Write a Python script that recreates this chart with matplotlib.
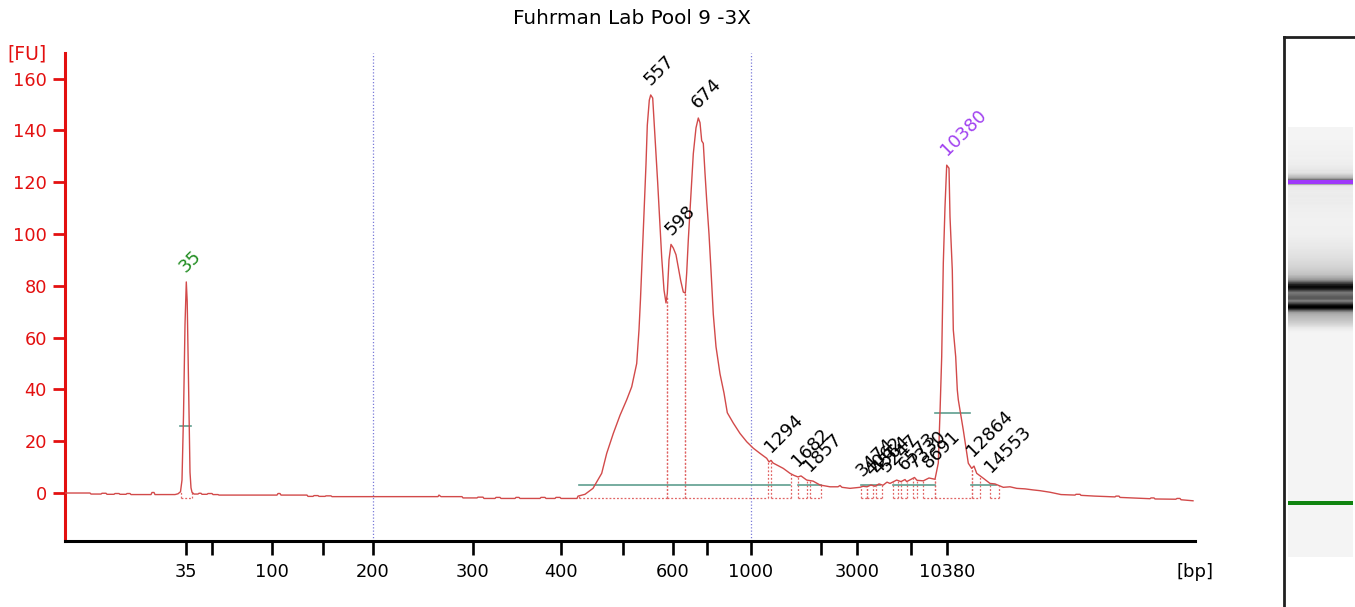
import numpy as np
import matplotlib
matplotlib.use("Agg")
import matplotlib.pyplot as plt

# ---------------- data ----------------
title = "Fuhrman Lab Pool 9 -3X"

# ladder: fragment size (bp) and migration time (s)
ladder_bp = [35, 50, 100, 150, 200, 300, 400, 500, 600, 700, 1000, 2000, 3000, 7000, 10380]
ladder_t = [32.13, 34.73, 40.74, 45.75, 50.77, 60.75, 69.6, 75.76, 80.79, 84.2, 88.56, 95.56, 99.2, 104.6, 108.2]
tick_labels = ["35", "", "100", "", "200", "300", "400", "", "600", "", "1000", "", "3000", "", "10380"]
grid_bp = [200, 1000]

# electropherogram trace: time (s), fluorescence (FU)
trace_t = [20.0, 22.5, 22.6, 23.6, 23.7, 24.1, 24.2, 24.9, 25.0, 25.4, 25.5, 26.1, 26.2, 26.5, 26.6,
           28.6, 28.7, 28.9, 29.0, 31.0, 31.3, 31.55, 31.7, 31.85, 32.0, 32.13, 32.22, 32.3, 32.4,
           32.5, 32.6, 32.7, 32.9, 33.3, 33.4, 33.6, 33.7, 34.2, 34.3, 34.7, 34.8, 35.3, 35.4, 41.2,
           41.3, 41.5, 41.6, 44.2, 44.3, 44.8, 44.9, 45.3, 45.4, 46.0, 46.1, 46.6, 46.7, 57.3, 57.4,
           57.6, 59.7, 59.8, 61.2, 61.3, 61.8, 61.9, 63.0, 63.1, 63.5, 63.6, 65.0, 65.1, 65.4, 65.5,
           67.5, 67.6, 68.0, 68.1, 69.0, 69.1, 69.5, 69.6, 71.2, 71.3, 72.0, 72.8, 73.67, 74.17,
           74.83, 75.5, 76.17, 76.67, 77.17, 77.4, 77.55, 77.67, 77.9, 78.1, 78.23, 78.43, 78.57,
           78.77, 78.9, 79.1, 79.27, 79.43, 79.67, 79.9, 80.1, 80.23, 80.4, 80.6, 80.83, 81.1, 81.33,
           81.57, 81.83, 82.03, 82.17, 82.33, 82.57, 82.83, 83.1, 83.33, 83.5, 83.67, 83.83, 84.0,
           84.17, 84.4, 84.6, 84.83, 85.1, 85.5, 85.9, 86.23, 86.83, 87.5, 88.17, 88.83, 89.5, 90.17,
           90.4, 90.6, 90.8, 91.83, 92.5, 92.9, 93.3, 93.6, 94.17, 94.5, 94.8, 95.5, 96.5, 97.3,
           97.5, 97.7, 98.5, 99.5, 99.8, 100.2, 100.6, 101.0, 101.4, 101.8, 102.2, 102.5, 103.17,
           103.6, 104.0, 104.17, 104.95, 105.2, 105.83, 106.4, 107.0, 107.33, 107.5, 107.67, 107.83,
           108.0, 108.17, 108.4, 108.5, 108.73, 108.83, 109.07, 109.23, 109.33, 109.83, 110.33,
           110.67, 110.9, 111.17, 111.83, 112.5, 113.0, 113.83, 114.5, 115.17, 116.0, 116.8, 117.5,
           118.5, 119.6, 121.0, 121.1, 121.5, 121.6, 123.0, 125.0, 125.1, 125.4, 125.5, 127.25,
           128.5, 128.6, 128.9, 129.0, 131.08, 131.2, 131.5, 131.6, 132.8]
trace_fu = [0.0, 0.0, -0.4, -0.4, -0.1, -0.1, -0.5, -0.5, -0.2, -0.2, -0.5, -0.5, -0.2, -0.2, -0.6,
            -0.6, 0.2, 0.2, -0.6, -0.6, -0.3, 0.5, 5, 30, 65, 81.5, 74, 55, 30,
            8, 2, 0.3, -0.4, -0.4, -0.1, -0.1, -0.5, -0.5, -0.2, -0.2, -0.6, -0.6, -0.8, -0.8,
            -0.2, -0.2, -0.8, -0.8, -1.3, -1.3, -1.0, -1.0, -1.3, -1.3, -1.1, -1.1, -1.4, -1.4, -0.8,
            -1.4, -1.4, -1.9, -1.9, -1.6, -1.6, -2.1, -2.1, -1.7, -1.7, -2.1, -2.1, -1.7, -1.7, -2.1,
            -2.1, -1.7, -1.7, -2.1, -2.1, -1.7, -1.7, -2.1, -2.1, -1.2, -0.5, 1.8, 7.6, 15.3,
            23, 30, 36, 41, 50, 63, 75, 86, 108, 127, 142, 151.7, 153.7,
            152.5, 144, 131, 119.7, 108, 91, 78.4, 73.4, 77, 90, 96, 94.6, 92, 87,
            82, 77.6, 77.2, 85, 97.7, 114, 131, 141, 144.8, 143, 136, 135, 123.5,
            113, 100, 86, 69, 56.5, 46, 38.6, 31, 27, 23, 19.8, 17.3, 15.3, 13.4,
            12.0, 12.6, 11.6, 9.5, 7.6, 6.8, 6.2, 6.6, 5.0, 4.8, 4.6, 3.1, 2.4, 2.4,
            2.9, 2.2, 1.8, 2.2, 2.6, 2.4, 3.1, 2.6, 3.5, 3.0, 4.2, 3.7, 5.0,
            4.4, 5.2, 4.4, 6.0, 4.9, 4.7, 5.8, 5.3, 11.6, 31, 52.6, 88.7,
            110.5, 126.6, 125.4, 106.7, 86, 63, 52.6, 39.8, 36, 24.3, 11.5,
            9.5, 10.4, 7.6, 5.7, 3.7, 3.5, 2.2, 2.4, 1.8, 1.6, 1.2, 0.9,
            0.3, -0.6, -0.8, -0.5, -0.5, -0.9, -1.2, -1.5, -1.2, -1.2, -1.7, -2.0,
            -2.2, -1.9, -1.9, -2.3, -2.4, -2.1, -2.1, -2.6, -3.0]

# called peaks
peak_bp = [35, 557, 598, 674, 1294, 1682, 1857, 3474, 4062, 4564, 5247, 6573, 7330, 8691,
           10380, 12864, 14553]
peak_fu = [81.5, 153.7, 96, 144.8, 12, 6.5, 4.6, 2.6, 3.1, 3.5, 4.2, 5.2, 6.0, 5.8,
           126.6, 10.4, 4.2]
peak_color = ["#1f8c1f"] + ["black"] * 13 + ["#a040f0"] + ["black"] * 2

# integration regions (start, end time, s)
region_start = [31.55, 71.4, 80.2, 82.0, 90.6, 93.3, 94.5, 99.6, 100.17, 101.1, 102.8, 103.6,
                104.8, 105.8, 107.0, 110.67, 112.5]
region_end = [32.7, 80.2, 82.0, 90.33, 92.57, 94.2, 95.6, 100.17, 100.8, 101.67, 103.3, 104.17,
              105.17, 107.0, 110.67, 111.5, 113.4]

# baseline (teal) segments
base_start = [71.4, 93.3, 99.6, 102.8, 110.6]
base_end = [92.5, 95.6, 101.5, 107.0, 113.1]
base_level = 3.2
# marker width lines
mw_start = [31.5, 107.0]
mw_end = [32.6, 110.5]
mw_level = [26, 31]

# --------------- helpers ---------------
def bp_to_t(bp):
    bp = np.asarray(bp, dtype=float)
    t = np.interp(bp, ladder_bp, ladder_t)
    slope = (ladder_t[-1] - ladder_t[-2]) / (ladder_bp[-1] - ladder_bp[-2])
    return np.where(bp > ladder_bp[-1], ladder_t[-1] + (bp - ladder_bp[-1]) * slope, t)

RED = "#e31010"
TRACE = "#d24a4a"
DOT = "#e06464"
TEAL = "#5f9e8f"
BASE_DOT = -1.8

W, H = 1355, 607
fig = plt.figure(figsize=(W / 100, H / 100), dpi=100)
plt.rcParams["font.family"] = ["DejaVu Sans"]

ax = fig.add_axes([65 / W, 1 - 541 / H, 1130 / W, 488 / H])
ax.set_xlim(20, 133)
ax.set_ylim(-18.53, 169.9)

# grid lines
for gt in bp_to_t(grid_bp):
    ax.axvline(gt, color="#7a7ad8", lw=0.9, ls=(0, (1, 1.6)), zorder=1)

# regions
tt = np.array(trace_t)
ff = np.array(trace_fu)
for s, e in zip(region_start, region_end):
    for x in (s, e):
        ax.plot([x, x], [BASE_DOT, np.interp(x, tt, ff)], color=DOT, lw=0.9,
                ls=(0, (1.5, 1.5)), zorder=2)
    ax.plot([s, e], [BASE_DOT, BASE_DOT], color=DOT, lw=0.9, ls=(0, (1.5, 1.5)), zorder=2)

for s, e in zip(base_start, base_end):
    ax.plot([s, e], [base_level, base_level], color=TEAL, lw=1.2, zorder=3)
for s, e, l in zip(mw_start, mw_end, mw_level):
    ax.plot([s, e], [l, l], color=TEAL, lw=1.2, zorder=3)

ax.plot(tt, ff, color=TRACE, lw=1.0, zorder=4)

# peak labels
for bp, fu, c in zip(peak_bp, peak_fu, peak_color):
    ax.annotate(str(bp), xy=(float(bp_to_t(bp)), fu), xytext=(1.8, 4.3),
                textcoords="offset points", rotation=45, ha="left", va="bottom",
                rotation_mode="anchor", color=c, fontsize=13, zorder=5)

# axes styling
for sp in ("top", "right"):
    ax.spines[sp].set_visible(False)
ax.spines["left"].set_color(RED)
ax.spines["left"].set_linewidth(2.2)
ax.spines["bottom"].set_color("black")
ax.spines["bottom"].set_linewidth(2.2)
ax.set_yticks(range(0, 161, 20))
ax.tick_params(axis="y", colors=RED, length=8.6, width=2, pad=4.5, labelsize=12.8)
ax.set_xticks(ladder_t)
ax.set_xticklabels(tick_labels)
ax.tick_params(axis="x", colors="black", length=10, width=1.9, pad=6, labelsize=12.8)

fig.text(632 / W, 1 - 18 / H, title, ha="center", va="center", fontsize=14.4)
fig.text(27 / W, 1 - 54 / H, "[FU]", ha="center", va="center", fontsize=13.5, color=RED)
fig.text(1195 / W, 1 - 572 / H, "[bp]", ha="center", va="center", fontsize=13)

# ---------------- gel lane ----------------
axb = fig.add_axes([1284 / W, -0.1, 0.2, (1 - 37 / H) + 0.1])
axb.set_facecolor("none")
for sp in ("right", "bottom"):
    axb.spines[sp].set_visible(False)
for sp in ("left", "top"):
    axb.spines[sp].set_linewidth(2)
    axb.spines[sp].set_color("#202020")
axb.set_xticks([])
axb.set_yticks([])

gel_lo, gel_hi, gel_top = 19.33, 121.2, 133.08
axg = fig.add_axes([1288 / W, 1 - 557 / H, 65 / W, 480 / H])
t_gel = np.linspace(gel_lo, gel_hi, 1500)
fu_gel = np.interp(t_gel, tt, ff)
g = 0.96 * (1 - np.clip(fu_gel / 150.0, 0, 1))
rgb = np.stack([g, g, g], axis=1)
for bp, col in [(35, (0.06, 0.52, 0.06)), (10380, (0.62, 0.22, 0.98))]:
    tp = float(bp_to_t(bp))
    rgb[np.abs(t_gel - tp) < 0.55] = col
axg.imshow(rgb[:, None, :], aspect="auto", origin="lower",
           extent=[0, 1, gel_lo, gel_hi], interpolation="nearest")
axg.set_xlim(0, 1)
axg.set_ylim(gel_lo, gel_top)
axg.axis("off")

fig.savefig("out.png", dpi=100)
